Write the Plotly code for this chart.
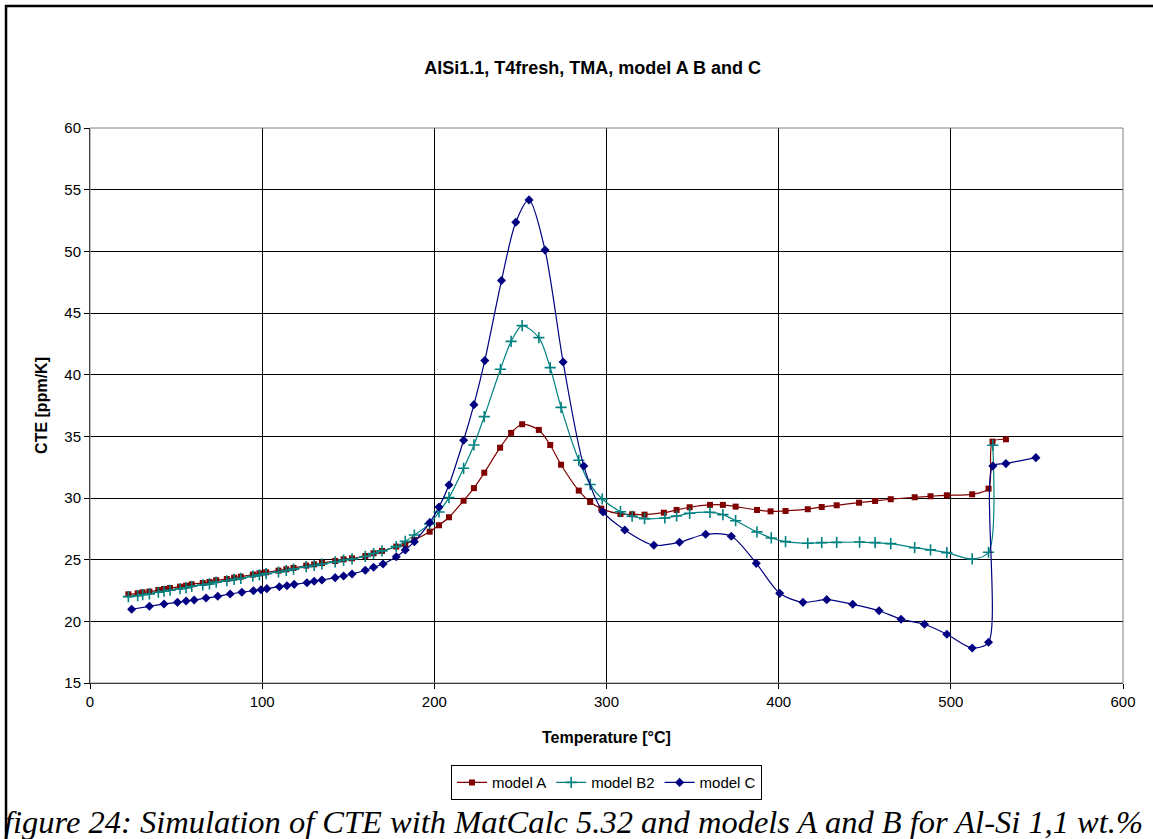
import plotly.graph_objects as go

# Temperature [°C] and CTE [ppm/K] for each model
temp_a = [22.3, 27.7, 30.6, 34.5, 39.7, 43.0, 46.5, 52.3, 55.8, 59.1,
          65.5, 69.4, 73.3, 79.5, 83.7, 87.6, 94.6, 98.4, 102.3, 109.5,
          114.0, 118.2, 125.6, 130.2, 134.7, 142.4, 147.3, 152.2, 159.9, 164.7,
          169.6, 177.9, 183.1, 188.4, 197.3, 202.7, 208.5, 217.0, 223.0, 229.0,
          238.2, 244.6, 251.0, 260.7, 267.3, 273.6, 283.9, 290.5, 297.0,
          308.1, 314.9, 322.1, 333.3, 340.7, 348.3, 360.1, 367.6, 375.0, 387.4,
          395.3, 404.0, 416.9, 425.0, 433.7, 446.7, 456.0, 465.1, 479.0, 488.2,
          497.7, 512.4, 521.9, 524.2, 532.0]
cte_a = [22.19, 22.27, 22.35, 22.41, 22.54, 22.62, 22.70, 22.81, 22.89, 23.00,
         23.11, 23.19, 23.33, 23.43, 23.54, 23.62, 23.79, 23.89, 23.98, 24.11,
         24.22, 24.33, 24.52, 24.62, 24.73, 24.89, 25.03, 25.11, 25.30, 25.52,
         25.71, 26.06, 26.27, 26.60, 27.27, 27.79, 28.44, 29.78, 30.80, 32.05,
         34.08, 35.28, 35.98, 35.52, 34.30, 32.70, 30.60, 29.68, 29.14,
         28.70, 28.68, 28.65, 28.81, 29.03, 29.25, 29.44, 29.44, 29.30, 29.03,
         28.92, 28.95, 29.09, 29.27, 29.41, 29.62, 29.76, 29.90, 30.06, 30.14,
         30.22, 30.30, 30.76, 34.57, 34.76]

temp_b2 = [22.3, 27.7, 30.6, 34.5, 39.7, 43.0, 46.5, 52.3, 55.8, 59.1,
           65.5, 69.4, 73.3, 79.5, 83.7, 87.6, 94.6, 98.4, 102.3, 109.5,
           114.0, 118.2, 125.6, 130.2, 134.7, 142.4, 147.3, 152.2, 159.9, 164.7,
           169.6, 177.9, 183.1, 188.4, 197.3, 202.7, 208.5, 217.0, 223.0, 229.0,
           238.4, 244.6, 251.0, 260.7, 267.3, 273.6, 283.9, 290.5, 297.5,
           308.1, 314.9, 322.1, 333.9, 340.7, 348.3, 360.1, 367.6, 375.0, 387.4,
           395.7, 404.0, 416.9, 425.0, 433.7, 447.0, 456.0, 465.1, 479.0, 488.2,
           497.7, 512.4, 521.9, 524.4]
cte_b2 = [22.00, 22.08, 22.16, 22.23, 22.36, 22.44, 22.52, 22.64, 22.72, 22.84,
          22.95, 23.03, 23.18, 23.29, 23.40, 23.49, 23.66, 23.77, 23.87, 24.00,
          24.12, 24.23, 24.43, 24.54, 24.65, 24.82, 24.97, 25.06, 25.26, 25.50,
          25.71, 26.06, 26.48, 27.00, 27.90, 28.87, 30.03, 32.41, 34.30, 36.60,
          40.44, 42.70, 43.98, 43.00, 40.57, 37.35, 33.06, 31.10, 29.92,
          28.89, 28.52, 28.33, 28.38, 28.54, 28.76, 28.84, 28.65, 28.16, 27.25,
          26.76, 26.46, 26.33, 26.38, 26.40, 26.43, 26.38, 26.30, 25.97, 25.79,
          25.57, 25.06, 25.60, 34.28]

temp_c = [24.2, 34.5, 43.0, 50.8, 55.8, 60.5, 67.4, 74.2, 81.4, 88.2,
          94.9, 99.3, 102.7, 110.0, 114.4, 118.6, 126.0, 130.2, 134.7, 142.4,
          147.3, 152.2, 159.9, 164.7, 170.2, 177.9, 183.1, 188.4, 197.3, 202.7,
          208.5, 217.0, 223.0, 229.3, 239.0, 247.3, 255.0, 264.3, 274.8, 286.8,
          298.0, 310.6, 327.5, 342.4, 357.6, 372.5, 387.0, 400.6, 414.1, 427.9,
          443.0, 458.3, 471.1, 484.7, 497.7, 512.4, 521.9, 524.4, 532.0, 549.4]
cte_c = [20.98, 21.22, 21.41, 21.54, 21.65, 21.73, 21.89, 22.03, 22.22, 22.36,
         22.48, 22.56, 22.65, 22.81, 22.89, 23.00, 23.13, 23.25, 23.35, 23.54,
         23.68, 23.84, 24.14, 24.38, 24.65, 25.24, 25.79, 26.46, 28.00, 29.27,
         31.06, 34.68, 37.57, 41.14, 47.63, 52.36, 54.17, 50.10, 41.03, 32.60,
         28.87, 27.41, 26.17, 26.41, 27.06, 26.90, 24.70, 22.27, 21.54, 21.76,
         21.38, 20.86, 20.17, 19.76, 18.95, 17.84, 18.30, 32.60, 32.79, 33.27]

x_ticks = [0, 100, 200, 300, 400, 500, 600]
y_ticks = [15, 20, 25, 30, 35, 40, 45, 50, 55, 60]

FONT = "Liberation Sans, Arial, sans-serif"

fig = go.Figure()
fig.add_trace(go.Scatter(
    x=temp_a, y=cte_a, name="model A", mode="lines+markers",
    line=dict(color="#800000", width=1.2, shape="spline", smoothing=0.8),
    marker=dict(symbol="square", size=6, color="#800000"),
))
fig.add_trace(go.Scatter(
    x=temp_b2, y=cte_b2, name="model B2", mode="lines+markers",
    line=dict(color="#008080", width=1.2, shape="spline", smoothing=0.8),
    marker=dict(symbol="cross-thin", size=8, color="#008080",
                line=dict(color="#008080", width=1.6)),
))
fig.add_trace(go.Scatter(
    x=temp_c, y=cte_c, name="model C", mode="lines+markers",
    line=dict(color="#000080", width=1.2, shape="spline", smoothing=0.8),
    marker=dict(symbol="diamond", size=7, color="#000080"),
))

axis_common = dict(
    showgrid=True, gridcolor="#000000", gridwidth=1,
    zeroline=False, showline=True, linecolor="#000000", linewidth=1,
    ticks="outside", ticklen=5, tickcolor="#000000",
    tickfont=dict(family=FONT, size=15, color="#000000"),
)

fig.update_xaxes(range=[0, 600], tickvals=x_ticks, **axis_common)
fig.update_yaxes(range=[15, 60], tickvals=y_ticks, **axis_common)

fig.update_layout(
    width=1153, height=839,
    margin=dict(l=90, r=30, t=128, b=156, pad=0),
    paper_bgcolor="white", plot_bgcolor="white",
    font=dict(family=FONT, color="#000000"),
    title=dict(text="<b>AlSi1.1, T4fresh, TMA, model A B and C</b>",
               xref="container", yref="container", x=0.514, y=0.919,
               xanchor="center", yanchor="middle",
               font=dict(family=FONT, size=18, color="#000000")),
    showlegend=True,
    legend=dict(orientation="h", x=0.5, xanchor="center", y=-0.148, yanchor="top",
                bordercolor="#000000", borderwidth=1, bgcolor="white",
                font=dict(family=FONT, size=15, color="#000000"),
                itemwidth=30, tracegroupgap=0),
    annotations=[
        dict(text="<b>Temperature [°C]</b>", xref="paper", yref="paper",
             x=0.5, y=-0.0973, xanchor="center", yanchor="middle", showarrow=False,
             font=dict(family=FONT, size=16, color="#000000")),
        dict(text="<b>CTE [ppm/K]</b>", xref="paper", yref="paper",
             x=-0.0465, y=0.501, xanchor="center", yanchor="middle", showarrow=False,
             textangle=-90, font=dict(family=FONT, size=16, color="#000000")),
        dict(text="<i>figure 24: Simulation of CTE with MatCalc 5.32 and models A and B for Al-Si 1,1 wt.%</i>",
             xref="paper", yref="paper", x=-0.0852, y=-0.2505,
             xanchor="left", yanchor="middle", showarrow=False,
             font=dict(family="Liberation Serif, Times New Roman, serif", size=32.5, color="#000000")),
    ],
    shapes=[
        # outer chart frame
        dict(type="rect", xref="paper", yref="paper",
             x0=-0.0813, y0=-0.30, x1=1.04, y1=1.2198,
             line=dict(color="#000000", width=2.5), layer="below"),
        # plot area border
        dict(type="rect", xref="paper", yref="paper", x0=0, y0=0, x1=1, y1=1,
             line=dict(color="#808080", width=1), layer="above"),
    ],
)

fig.write_html("out.html")
